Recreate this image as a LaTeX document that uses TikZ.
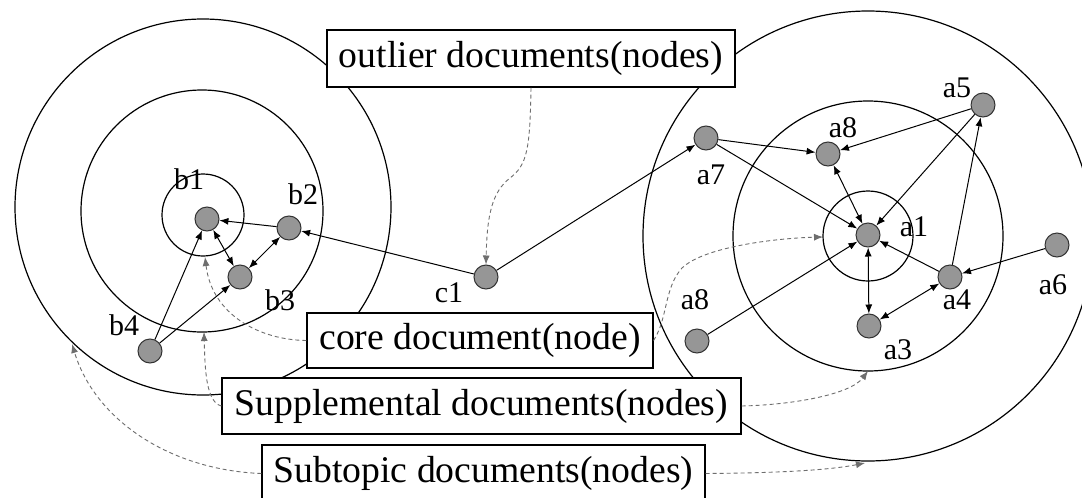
\documentclass[tikz,border=0pt]{standalone}
\usepackage{fontspec}
\setmainfont{Liberation Serif}
\usetikzlibrary{arrows.meta}
\definecolor{nodegray}{RGB}{150,150,150}
\definecolor{dashgray}{RGB}{110,110,110}
\tikzset{
  dnode/.style={circle,draw=black!80,fill=nodegray,line width=1pt,minimum size=24pt,inner sep=0pt},
  lbl/.style={font=\fontsize{30}{30}\selectfont,inner sep=0pt},
  tbox/.style={draw=black,fill=white,line width=1.2pt,font=\fontsize{37.7}{38}\selectfont,inner sep=0pt},
  ring/.style={draw=black,line width=1.2pt},
  link/.style={line width=1pt,-{Latex[length=9pt,width=7pt]}},
  blink/.style={line width=1pt,{Latex[length=9pt,width=7pt]}-{Latex[length=9pt,width=7pt]}},
  dlink/.style={dashgray,line width=0.9pt,dash pattern=on 4pt off 3pt,-{Latex[length=9pt,width=7pt]}}
}
\begin{document}
\begin{tikzpicture}[x=1pt,y=-1pt]
\useasboundingbox (0,0) rectangle (1082,498);
\fill[white] (0,0) rectangle (1082,498);
% rings
\draw[ring] (203,207) circle[radius=188];
\draw[ring] (202,211) circle[radius=121];
\draw[ring] (203,215) circle[radius=41];
\draw[ring] (868,236) circle[radius=225];
\draw[ring] (868,236) circle[radius=135];
\draw[ring] (868,236) circle[radius=45];
% boxes
\node[tbox,minimum width=408pt,minimum height=57pt] (outl) at (531,58.5) {outlier documents(nodes)};
\node[tbox,minimum width=346pt,minimum height=55pt] (core) at (480,340.5) {core document(node)};
\node[tbox,minimum width=519pt,minimum height=56pt] (supp) at (481.5,406) {Supplemental documents(nodes)};
\node[tbox,minimum width=443pt,minimum height=57pt] (subt) at (483.5,473.5) {Subtopic documents(nodes)};
% document nodes
\node[dnode] (b1) at (207,219) {};
\node[dnode] (b2) at (289,228) {};
\node[dnode] (b3) at (240,277) {};
\node[dnode] (b4) at (150,351) {};
\node[dnode] (c1) at (486,277) {};
\node[dnode] (a7) at (706,138) {};
\node[dnode] (a8t) at (828,154) {};
\node[dnode] (a5) at (983,105) {};
\node[dnode] (a1) at (868,235) {};
\node[dnode] (a6) at (1057,245) {};
\node[dnode] (a4) at (950,277) {};
\node[dnode] (a3) at (869,326) {};
\node[dnode] (a8l) at (697,341) {};
% labels
\node[lbl] (lb1) at (189,179) {b1};
\node[lbl] (lb2) at (303,194) {b2};
\node[lbl] (lb3) at (280,300) {b3};
\node[lbl] (lb4) at (124,325) {b4};
\node[lbl] (lc1) at (449,293) {c1};
\node[lbl] (la7) at (711,175) {a7};
\node[lbl] (la8t) at (843,128) {a8};
\node[lbl] (la5) at (957,88) {a5};
\node[lbl] (la1) at (914,227) {a1};
\node[lbl] (la6) at (1053,285) {a6};
\node[lbl] (la4) at (957,300) {a4};
\node[lbl] (la3) at (898,350) {a3};
\node[lbl] (la8l) at (695,300) {a8};
% solid links
\draw[link] (b2) -- (b1);
\draw[link] (c1) -- (b2);
\draw[blink] (b2) -- (b3);
\draw[blink] (b1) -- (b3);
\draw[link] (b4) -- (b1);
\draw[link] (b4) -- (b3);
\draw[link] (c1) -- (a7);
\draw[link] (a7) -- (a8t);
\draw[link] (a7) -- (a1);
\draw[link] (a5) -- (a8t);
\draw[link] (a5) -- (a1);
\draw[blink] (a8t) -- (a1);
\draw[link] (a4) -- (a5);
\draw[link] (a4) -- (a1);
\draw[link] (a6) -- (a4);
\draw[blink] (a1) -- (a3);
\draw[blink] (a3) -- (a4);
\draw[link] (a8l) -- (a1);
% dashed pointers
\coordinate (t1) at (205,257);
\coordinate (t2) at (823,237);
\coordinate (t3) at (204,332);
\coordinate (t4) at (868,371);
\coordinate (t5) at (72,344);
\coordinate (t6) at (865,463);
\draw[dlink] (outl.south) .. controls (530,150) and (527,165) .. (510,178) .. controls (492,192) and (487,215) .. (c1.north);
\draw[dlink] (core.west) .. controls (260,340) and (212,315) .. (t1);
\draw[dlink] (core.east) .. controls (668,318) and (664,288) .. (682,268) .. controls (705,246) and (780,238) .. (t2);
\draw[dlink] (supp.west) .. controls (206,402) and (205,370) .. (t3);
\draw[dlink] (supp.east) .. controls (790,405) and (850,395) .. (t4);
\draw[dlink] (subt.west) .. controls (170,470) and (95,420) .. (t5);
\draw[dlink] (subt.east) .. controls (780,473) and (830,470) .. (t6);
\end{tikzpicture}
\end{document}
